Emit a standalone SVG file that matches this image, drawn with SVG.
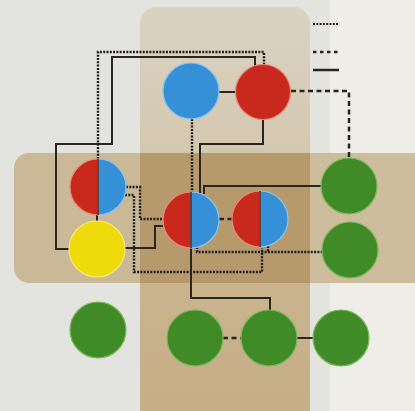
<svg xmlns="http://www.w3.org/2000/svg" width="415" height="411" viewBox="0 0 415 411">
  <defs>
    <linearGradient id="vgrad" gradientUnits="userSpaceOnUse" x1="0" y1="7" x2="0" y2="411">
      <stop offset="0" stop-color="#dad2c3"/>
      <stop offset="0.35" stop-color="#d4c8b0"/>
      <stop offset="0.68" stop-color="#c9b48f"/>
      <stop offset="1" stop-color="#c6ae86"/>
    </linearGradient>
    <style>
      .s { fill: none; stroke: #2a2522; stroke-width: 2; }
      .d { fill: none; stroke: #2a2522; stroke-width: 2.5; stroke-dasharray: 5 3.5; }
      .t { fill: none; stroke: #221e1b; stroke-width: 2.4; stroke-dasharray: 2 1.3; }
      .red { fill: #c9291d; stroke: #e98a72; stroke-width: 1.2; }
      .blue { fill: #3690d8; stroke: #8cc4ec; stroke-width: 1.2; }
      .yellow { fill: #efdb0c; stroke: #f6ea7a; stroke-width: 1.2; }
      .green { fill: #418a28; stroke: #7cb85c; stroke-width: 1.2; }
      .split { stroke: #4a2c28; stroke-width: 1.6; }
    </style>
  </defs>

  <!-- background -->
  <rect x="0" y="0" width="415" height="411" fill="#e3e3df"/>
  <rect x="330" y="0" width="85" height="411" fill="#eeede8"/>

  <!-- regions -->
  <g id="regions">
    <rect x="140" y="7" width="170" height="420" rx="16" fill="url(#vgrad)"/>
    <rect x="14" y="153" width="415" height="130" rx="15" fill="#cab896"/>
    <rect x="310" y="153" width="120" height="130" fill="#d0c1a3" opacity="0.5"/>
    <rect x="140" y="153" width="170" height="130" fill="#b69a6c"/>
  </g>

  <!-- legend -->
  <g id="legend">
    <line x1="313" y1="24" x2="338" y2="24" class="t" style="stroke-width:2"/>
    <line x1="313" y1="52" x2="338" y2="52" class="d" style="stroke-dasharray:3.5 3.5"/>
    <line x1="313" y1="70" x2="339" y2="70" class="s" style="stroke-width:2.5"/>
  </g>

  <!-- connectors -->
  <g id="connectors">
    <path class="s" d="M219,92 H236"/>
    <path class="s" d="M255,66 V57 H112 V144 H56 V249 H69"/>
    <path class="s" d="M263,119 V144 H200 V194"/>
    <path class="s" d="M322,186 H204 V194"/>
    <path class="s" d="M125,248 H155 V226 H164"/>
    <path class="s" d="M97,214 V222"/>
    <path class="s" d="M191,248 V298 H270 V311"/>
    <path class="s" d="M297,338 H313"/>
    <path class="d" d="M291,91 H349 V159"/>
    <path class="d" d="M219,219 H232"/>
    <path class="d" d="M223,338 H242"/>
    <path class="t" d="M98,159 V52 H264 V65"/>
    <path class="t" d="M192,119 V192"/>
    <path class="t" d="M126,187 H140 V219 H163"/>
    <path class="t" d="M125,195 H134 V272 H262 V248"/>
    <path class="t" d="M197,247 V252 H323"/>
    <path class="t" d="M268,246 V252"/>
  </g>

  <!-- nodes -->
  <g id="node-blue-top"><circle cx="191" cy="91" r="28" class="blue"/></g>
  <g id="node-red-top"><circle cx="263" cy="92" r="27.5" class="red"/></g>

  <g id="node-split-left">
    <path class="red" d="M98,159 A28,28 0 0 0 98,215 Z"/>
    <path class="blue" d="M98,159 A28,28 0 0 1 98,215 Z"/>
    <line class="split" x1="98" y1="159" x2="98" y2="215"/>
  </g>
  <g id="node-yellow"><circle cx="97" cy="249" r="28" class="yellow"/></g>

  <g id="node-split-center">
    <path class="red" d="M191,192 A28,28 0 0 0 191,248 Z"/>
    <path class="blue" d="M191,192 A28,28 0 0 1 191,248 Z"/>
    <line class="split" x1="191" y1="192" x2="191" y2="248"/>
  </g>
  <g id="node-split-right">
    <path class="red" d="M260,191 A28,28 0 0 0 260,247 Z"/>
    <path class="blue" d="M260,191 A28,28 0 0 1 260,247 Z"/>
    <line class="split" x1="260" y1="191" x2="260" y2="247"/>
  </g>

  <g id="node-green-right-top"><circle cx="349" cy="186" r="28" class="green"/></g>
  <g id="node-green-right-bottom"><circle cx="350" cy="250" r="28" class="green"/></g>
  <g id="node-green-bottom-1"><circle cx="98" cy="330" r="28" class="green"/></g>
  <g id="node-green-bottom-2"><circle cx="195" cy="338" r="28" class="green"/></g>
  <g id="node-green-bottom-3"><circle cx="269" cy="338" r="28" class="green"/></g>
  <g id="node-green-bottom-4"><circle cx="341" cy="338" r="28" class="green"/></g>
</svg>
